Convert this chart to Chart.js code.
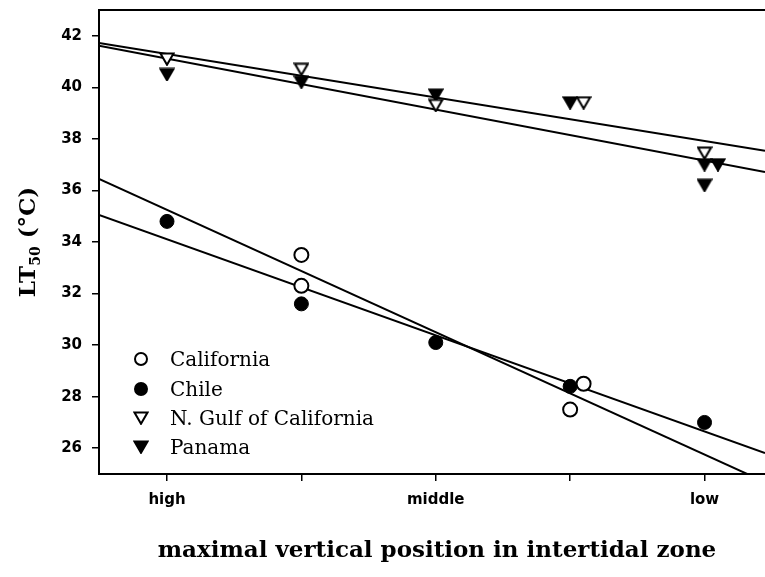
<!DOCTYPE html>
<html>
<head>
<meta charset="utf-8">
<script src="https://cdn.jsdelivr.net/npm/chart.js@4/dist/chart.umd.min.js"></script>
<style>
  html, body { margin: 0; padding: 0; background: #fff; }
  #wrap { width: 765px; height: 577px; }
</style>
</head>
<body>
<div id="wrap"><canvas id="c" width="765" height="577"></canvas></div>
<script>
// Zone positions along the shore (1 = high ... 5 = low)
const zoneTicks = [1, 2, 3, 4, 5];
const zoneLabels = ['high', '', 'middle', '', 'low'];
const tempTicks = [26, 28, 30, 32, 34, 36, 38, 40, 42];

// LT50 measurements per region
const californiaX = [2, 2, 4, 4.1];
const californiaY = [33.5, 32.3, 27.5, 28.5];
const chileX = [1, 2, 3, 4, 5];
const chileY = [34.8, 31.6, 30.1, 28.4, 27.0];
const gulfX = [1, 2, 3, 4.1, 5];
const gulfY = [41.1, 40.7, 39.3, 39.4, 37.45];
const panamaX = [1, 2, 3, 4, 5, 5.1, 5];
const panamaY = [40.5, 40.2, 39.7, 39.4, 37.0, 37.0, 36.2];

// Linear fits: value at position 0 and change per zone step
const fitIntercepts = [42.14, 42.10, 37.62, 35.97];
const fitSlopes = [-0.845, -0.988, -2.373, -1.864];

const xMin = 0.494, xMax = 5.45;
const yMin = 25, yMax = 43;

const xTitle = 'maximal vertical position in intertidal zone';
const legendNames = ['California', 'Chile', 'N. Gulf of California', 'Panama'];

// Down-pointing triangle markers, centred on their bounding box
function triangleMarker(filled) {
  const c = document.createElement('canvas');
  c.width = 16; c.height = 14;
  const g = c.getContext('2d');
  g.beginPath();
  g.moveTo(1.5, 1.5);
  g.lineTo(14.5, 1.5);
  g.lineTo(8, 12.8);
  g.closePath();
  g.lineJoin = 'miter';
  g.lineWidth = 2;
  g.fillStyle = filled ? '#000' : '#fff';
  g.fill();
  g.strokeStyle = '#000';
  g.stroke();
  return c;
}
const openTri = triangleMarker(false);
const filledTri = triangleMarker(true);

const pts = (xs, ys) => xs.map((x, i) => ({ x: x, y: ys[i] }));
const fitLine = (i) => [xMin, xMax].map(x => ({ x: x, y: fitIntercepts[i] + fitSlopes[i] * x }));

const pointSets = [
  { data: pts(californiaX, californiaY), pointStyle: 'circle', pointRadius: 7, pointBackgroundColor: '#fff', pointBorderColor: '#000', pointBorderWidth: 2 },
  { data: pts(chileX, chileY), pointStyle: 'circle', pointRadius: 7, pointBackgroundColor: '#000', pointBorderColor: '#000', pointBorderWidth: 1 },
  { data: pts(gulfX, gulfY), pointStyle: openTri, pointRadius: 8 },
  { data: pts(panamaX, panamaY), pointStyle: filledTri, pointRadius: 8 }
].map(d => Object.assign({ showLine: false, order: 0 }, d));

const lineSets = fitIntercepts.map((_, i) => ({
  data: fitLine(i),
  showLine: true,
  borderColor: '#000',
  borderWidth: 2,
  pointRadius: 0,
  fill: false,
  order: 1
}));

// Top frame line, titles and the in-plot legend
const annotate = {
  id: 'annotate',
  afterDraw(chart) {
    const ctx = chart.ctx;
    const area = chart.chartArea;
    ctx.save();

    // frame line along the top of the plot
    ctx.strokeStyle = '#000';
    ctx.lineWidth = 2;
    ctx.beginPath();
    ctx.moveTo(area.left - 1, area.top);
    ctx.lineTo(area.right, area.top);
    ctx.stroke();

    ctx.fillStyle = '#000';

    // x-axis title
    ctx.font = 'bold 23px "DejaVu Serif"';
    ctx.textAlign = 'left';
    ctx.textBaseline = 'alphabetic';
    const tw = ctx.measureText(xTitle).width;
    ctx.fillText(xTitle, 437 - tw / 2, 557);

    // y-axis title with subscript
    ctx.save();
    ctx.translate(27, 242);
    ctx.rotate(-Math.PI / 2);
    const big = 'bold 23px "DejaVu Serif"';
    const small = 'bold 14px "DejaVu Serif"';
    ctx.font = big;
    const w1 = ctx.measureText('LT').width;
    const w3 = ctx.measureText(' (°C)').width;
    ctx.font = small;
    const w2 = ctx.measureText('50').width;
    let x0 = -(w1 + w2 + w3) / 2;
    ctx.font = big;
    ctx.fillText('LT', x0, 8);
    ctx.font = small;
    ctx.fillText('50', x0 + w1, 13);
    ctx.font = big;
    ctx.fillText(' (°C)', x0 + w1 + w2, 8);
    ctx.restore();

    // legend
    const rows = [359, 389, 418, 447];
    const mx = 141, tx = 170;
    ctx.font = '20px "DejaVu Serif"';
    legendNames.forEach((name, i) => {
      const y = rows[i];
      if (i < 2) {
        ctx.beginPath();
        ctx.arc(mx, y, 6, 0, Math.PI * 2);
        ctx.fillStyle = i === 0 ? '#fff' : '#000';
        ctx.fill();
        ctx.lineWidth = 2;
        ctx.strokeStyle = '#000';
        ctx.stroke();
      } else {
        const img = i === 2 ? openTri : filledTri;
        ctx.drawImage(img, mx - img.width / 2, y - img.height / 2);
      }
      ctx.fillStyle = '#000';
      ctx.fillText(name, tx, y + 7);
    });
    ctx.restore();
  }
};

const tickFont = { family: '"DejaVu Sans"', size: 15, weight: 'bold' };

new Chart(document.getElementById('c'), {
  type: 'scatter',
  data: { datasets: pointSets.concat(lineSets) },
  options: {
    responsive: false,
    animation: false,
    devicePixelRatio: 1,
    layout: { autoPadding: false, padding: { left: 0, right: 0, top: 10, bottom: 0 } },
    plugins: { legend: { display: false }, tooltip: { enabled: false } },
    scales: {
      x: {
        type: 'linear',
        position: 'bottom',
        min: xMin,
        max: xMax,
        afterBuildTicks: s => { s.ticks = zoneTicks.map(v => ({ value: v })); },
        afterFit: s => { s.height = 103; s.paddingLeft = 0; s.paddingRight = 0; },
        ticks: {
          color: '#000',
          font: tickFont,
          padding: 10,
          maxRotation: 0,
          autoSkip: false,
          callback: (v) => { const i = zoneTicks.indexOf(v); return i >= 0 ? zoneLabels[i] : ''; }
        },
        grid: { drawOnChartArea: false, drawTicks: true, tickLength: 7, color: '#000', lineWidth: 1.5 },
        border: { display: true, color: '#000', width: 2 }
      },
      y: {
        type: 'linear',
        position: 'left',
        min: yMin,
        max: yMax,
        afterBuildTicks: s => { s.ticks = tempTicks.map(v => ({ value: v })); },
        afterFit: s => { s.width = 99; s.paddingTop = 0; s.paddingBottom = 0; },
        ticks: { color: '#000', font: tickFont, padding: 10 },
        grid: { drawOnChartArea: false, drawTicks: true, tickLength: 7, color: '#000', lineWidth: 1.5 },
        border: { display: true, color: '#000', width: 2 }
      }
    }
  },
  plugins: [annotate]
});
</script>
</body>
</html>
